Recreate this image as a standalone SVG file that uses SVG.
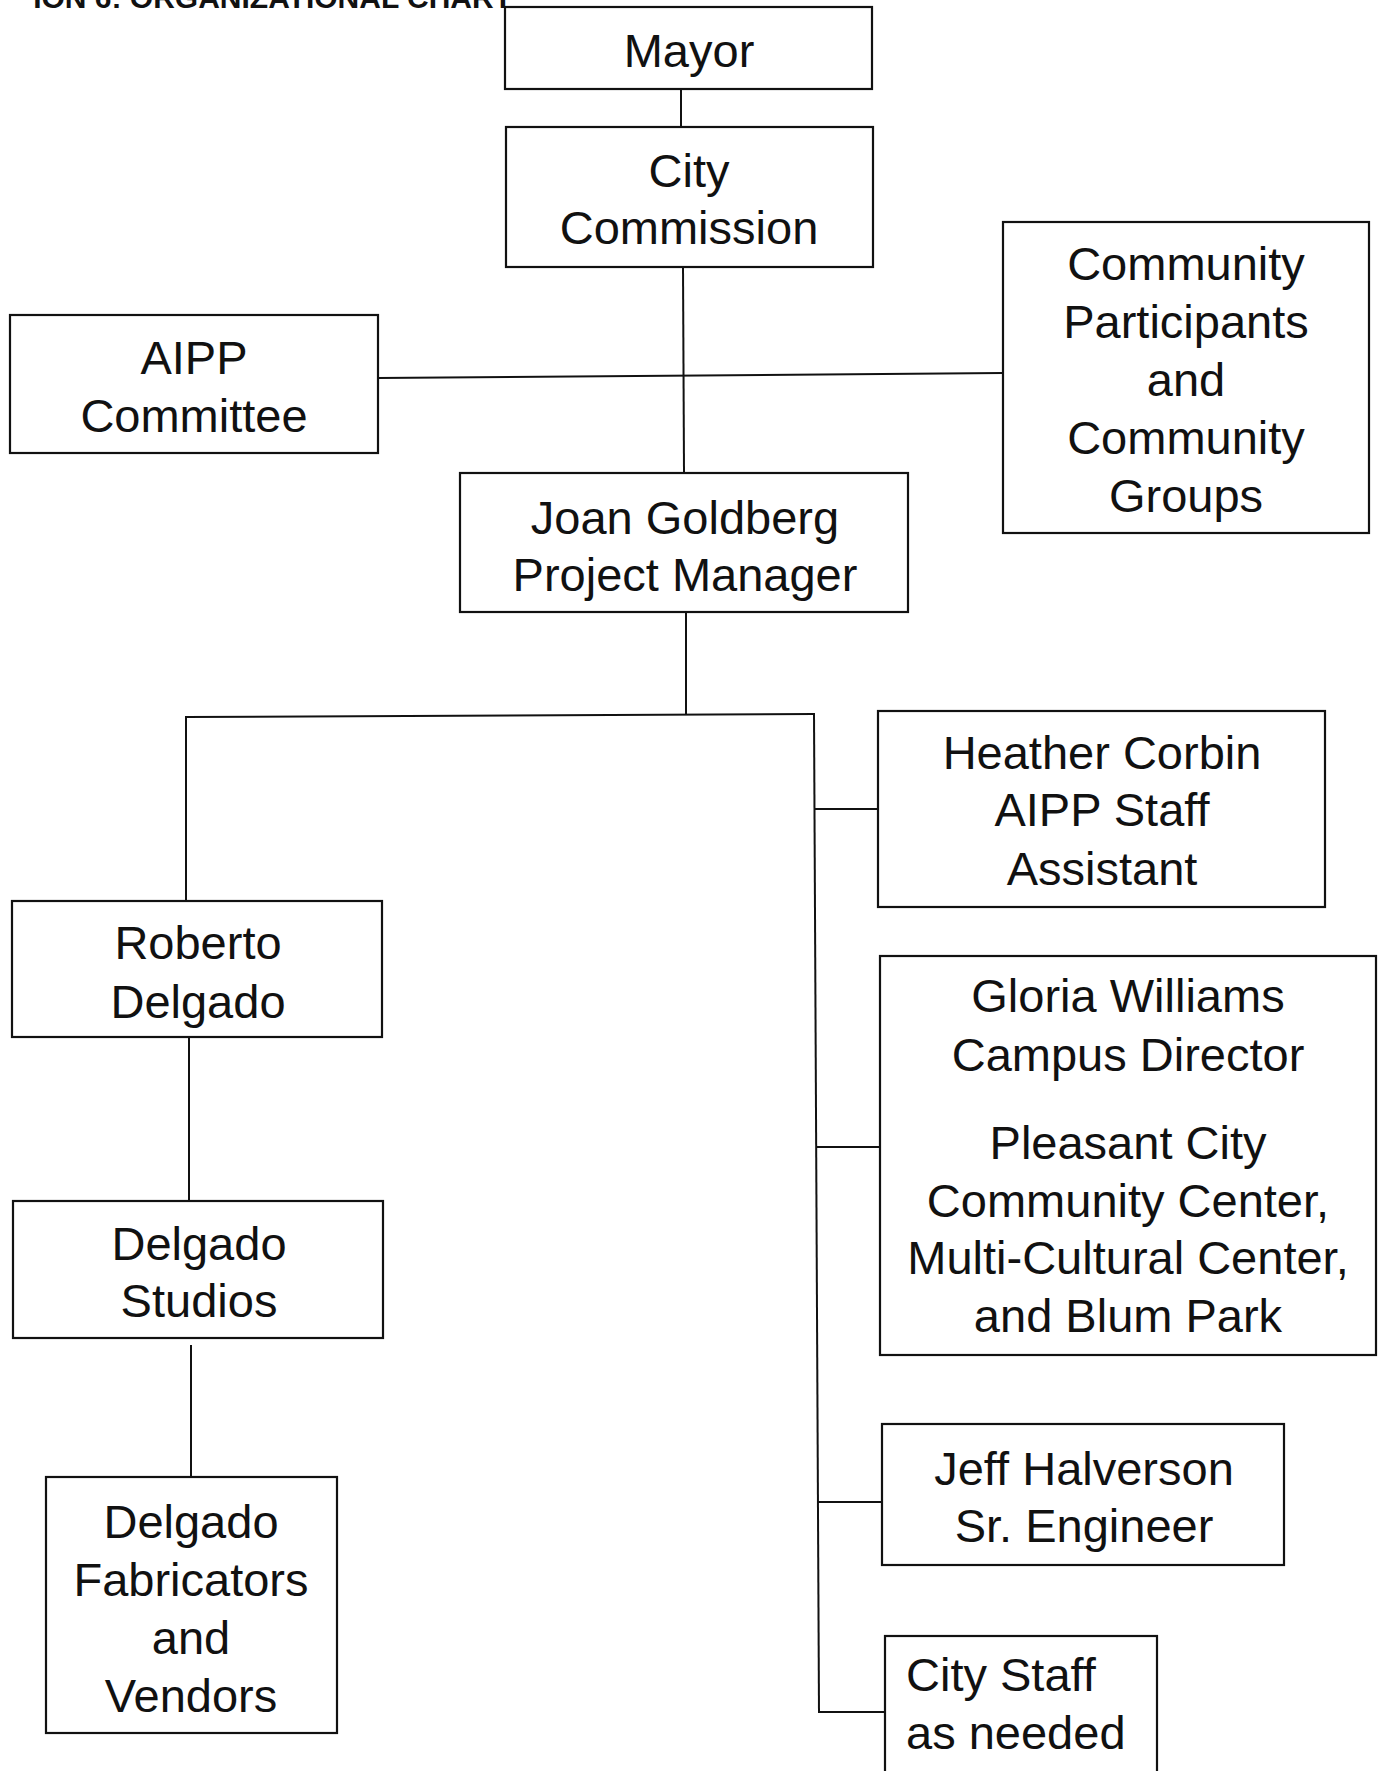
<svg xmlns="http://www.w3.org/2000/svg" width="1383" height="1771" viewBox="0 0 1383 1771">
<style>
  .box { fill: #ffffff; stroke: #111111; stroke-width: 2.2; }
  .con { fill: none; stroke: #111111; stroke-width: 2; }
  .t { font-family: "Liberation Sans", Arial, sans-serif; font-size: 47px; fill: #111111; text-anchor: middle; }
  .tl { text-anchor: start; }
  .title { font-family: "Liberation Sans", Arial, sans-serif; font-size: 30px; font-weight: bold; fill: #111111; text-anchor: end; }
</style>
<rect width="1383" height="1771" fill="#ffffff"/>
<text class="title" x="512" y="8">ION 6: ORGANIZATIONAL CHART</text>

<g id="connectors">
  <line class="con" x1="681" y1="88" x2="681" y2="127"/>
  <line class="con" x1="683" y1="267" x2="684" y2="472"/>
  <line class="con" x1="378" y1="378" x2="1003" y2="373"/>
  <line class="con" x1="686" y1="612" x2="686" y2="715"/>
  <line class="con" x1="186" y1="717" x2="814" y2="714"/>
  <line class="con" x1="186" y1="716" x2="186" y2="900"/>
  <line class="con" x1="189" y1="1037" x2="189" y2="1200"/>
  <line class="con" x1="191" y1="1345" x2="191" y2="1476"/>
  <line class="con" x1="814" y1="713" x2="819" y2="1713"/>
  <line class="con" x1="815" y1="809" x2="878" y2="809"/>
  <line class="con" x1="816" y1="1147" x2="879" y2="1147"/>
  <line class="con" x1="818" y1="1502" x2="882" y2="1502"/>
  <line class="con" x1="819" y1="1712" x2="885" y2="1712"/>
</g>

<g id="mayor">
  <rect class="box" x="505" y="7" width="367" height="82"/>
  <text class="t" x="689" y="67">Mayor</text>
</g>
<g id="city-commission">
  <rect class="box" x="506" y="127" width="367" height="140"/>
  <text class="t" x="689" y="187">City</text>
  <text class="t" x="689" y="244">Commission</text>
</g>
<g id="aipp-committee">
  <rect class="box" x="10" y="315" width="368" height="138"/>
  <text class="t" x="194" y="374">AIPP</text>
  <text class="t" x="194" y="432">Committee</text>
</g>
<g id="community-participants">
  <rect class="box" x="1003" y="222" width="366" height="311"/>
  <text class="t" x="1186" y="280">Community</text>
  <text class="t" x="1186" y="338">Participants</text>
  <text class="t" x="1186" y="396">and</text>
  <text class="t" x="1186" y="454">Community</text>
  <text class="t" x="1186" y="512">Groups</text>
</g>
<g id="joan-goldberg">
  <rect class="box" x="460" y="473" width="448" height="139"/>
  <text class="t" x="685" y="534">Joan Goldberg</text>
  <text class="t" x="685" y="591">Project Manager</text>
</g>
<g id="heather-corbin">
  <rect class="box" x="878" y="711" width="447" height="196"/>
  <text class="t" x="1102" y="769">Heather Corbin</text>
  <text class="t" x="1102" y="826">AIPP Staff</text>
  <text class="t" x="1102" y="885">Assistant</text>
</g>
<g id="gloria-williams">
  <rect class="box" x="880" y="956" width="496" height="399"/>
  <text class="t" x="1128" y="1012">Gloria Williams</text>
  <text class="t" x="1128" y="1071">Campus Director</text>
  <text class="t" x="1128" y="1159">Pleasant City</text>
  <text class="t" x="1128" y="1217">Community Center,</text>
  <text class="t" x="1128" y="1274">Multi-Cultural Center,</text>
  <text class="t" x="1128" y="1332">and Blum Park</text>
</g>
<g id="jeff-halverson">
  <rect class="box" x="882" y="1424" width="402" height="141"/>
  <text class="t" x="1084" y="1485">Jeff Halverson</text>
  <text class="t" x="1084" y="1542">Sr. Engineer</text>
</g>
<g id="city-staff">
  <rect class="box" x="885" y="1636" width="272" height="150"/>
  <text class="t tl" x="906" y="1691">City Staff</text>
  <text class="t tl" x="906" y="1749">as needed</text>
</g>
<g id="roberto-delgado">
  <rect class="box" x="12" y="901" width="370" height="136"/>
  <text class="t" x="198" y="959">Roberto</text>
  <text class="t" x="198" y="1018">Delgado</text>
</g>
<g id="delgado-studios">
  <rect class="box" x="13" y="1201" width="370" height="137"/>
  <text class="t" x="199" y="1260">Delgado</text>
  <text class="t" x="199" y="1317">Studios</text>
</g>
<g id="delgado-fabricators">
  <rect class="box" x="46" y="1477" width="291" height="256"/>
  <text class="t" x="191" y="1538">Delgado</text>
  <text class="t" x="191" y="1596">Fabricators</text>
  <text class="t" x="191" y="1654">and</text>
  <text class="t" x="191" y="1712">Vendors</text>
</g>
</svg>
